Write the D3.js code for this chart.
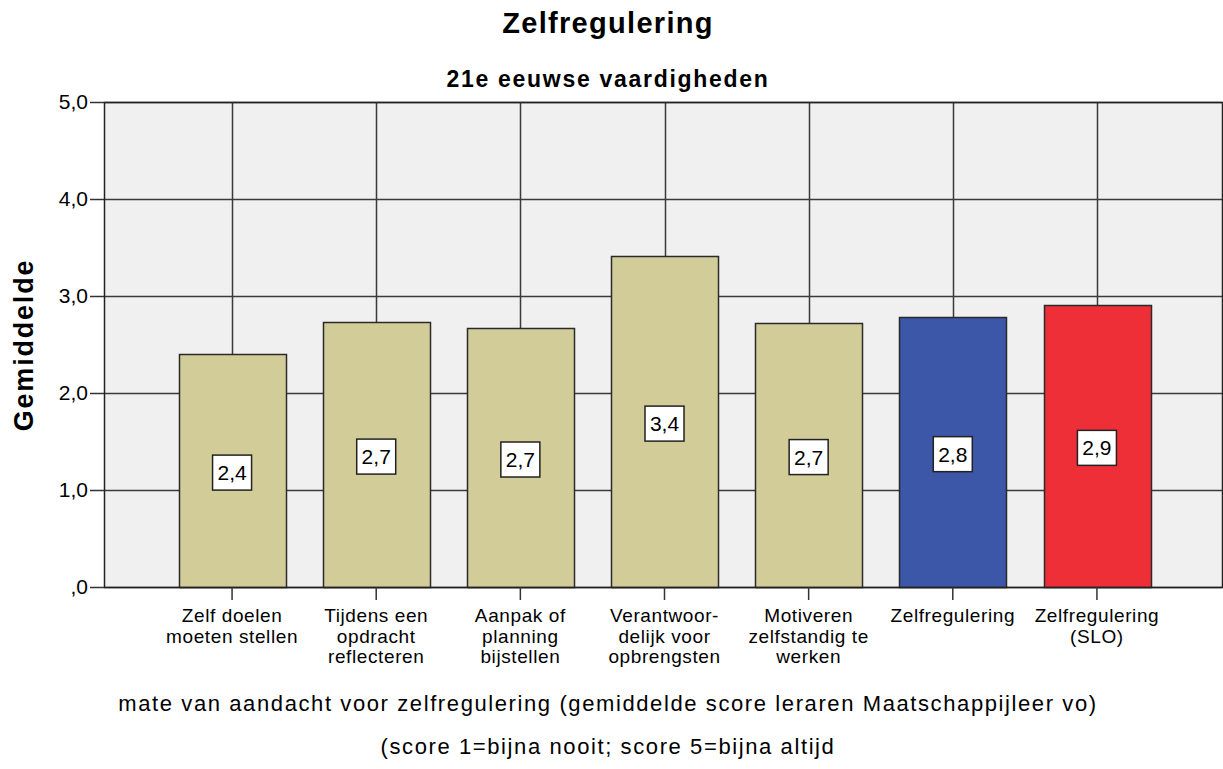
<!DOCTYPE html>
<html>
<head>
<meta charset="utf-8">
<script src="https://cdn.jsdelivr.net/npm/d3@7"></script>
<style>
  body { margin: 0; background: #fff; }
  text { font-family: Arial, "Liberation Sans", sans-serif; fill: #000; }
</style>
</head>
<body>
<svg id="chart"></svg>
<script>
// data
let categories = [
    ["Zelf doelen", "moeten stellen"],
    ["Tijdens een", "opdracht", "reflecteren"],
    ["Aanpak of", "planning", "bijstellen"],
    ["Verantwoor-", "delijk voor", "opbrengsten"],
    ["Motiveren", "zelfstandig te", "werken"],
    ["Zelfregulering"],
    ["Zelfregulering", "(SLO)"]
]
let values = [2.40, 2.73, 2.67, 3.41, 2.72, 2.78, 2.91]
let valueLabels = ["2,4", "2,7", "2,7", "3,4", "2,7", "2,8", "2,9"]
let barColors = ["#d2cd98", "#d2cd98", "#d2cd98", "#d2cd98", "#d2cd98", "#3c56a8", "#ee2f37"]
let yTicks = [0, 1, 2, 3, 4, 5]
let yTickLabels = [",0", "1,0", "2,0", "3,0", "4,0", "5,0"]

function drawChart() {
    let width = 1223;
    let height = 769;

    let plotLeft = 104;
    let plotRight = 1222;
    let plotTop = 102;
    let plotBottom = 587;
    let midX = 608;

    let svg = d3.select("#chart")
        .attr("width", width)
        .attr("height", height);

    let ids = d3.range(categories.length);

    let xScale = d3.scaleBand()
        .domain(ids)
        .range([160, 1169])
        .paddingInner(0.26)
        .paddingOuter(0.13);

    let yScale = d3.scaleLinear()
        .domain([0, 5])
        .range([plotBottom, plotTop]);

    // plot background
    svg.append("rect")
        .attr("x", plotLeft)
        .attr("y", plotTop)
        .attr("width", plotRight - plotLeft)
        .attr("height", plotBottom - plotTop)
        .attr("fill", "#f0f0f0");

    // horizontal grid
    svg.append("g")
        .selectAll("line")
        .data(yTicks)
        .enter()
        .append("line")
        .attr("x1", plotLeft)
        .attr("x2", plotRight)
        .attr("y1", d => Math.round(yScale(d)) + 0.5)
        .attr("y2", d => Math.round(yScale(d)) + 0.5)
        .attr("stroke", "#3a3a3a")
        .attr("stroke-width", 1.5);

    // vertical grid at category centers
    svg.append("g")
        .selectAll("line")
        .data(ids)
        .enter()
        .append("line")
        .attr("x1", d => Math.round(xScale(d) + xScale.bandwidth() / 2) + 0.5)
        .attr("x2", d => Math.round(xScale(d) + xScale.bandwidth() / 2) + 0.5)
        .attr("y1", plotTop)
        .attr("y2", plotBottom)
        .attr("stroke", "#3a3a3a")
        .attr("stroke-width", 1.5);

    // bars
    svg.append("g")
        .selectAll("rect")
        .data(ids)
        .enter()
        .append("rect")
        .attr("x", d => Math.round(xScale(d)) + 0.5)
        .attr("y", d => Math.round(yScale(values[d])) + 0.5)
        .attr("width", Math.round(xScale.bandwidth()))
        .attr("height", d => Math.round(plotBottom - yScale(values[d])))
        .attr("fill", d => barColors[d])
        .attr("stroke", "#2a2a2a")
        .attr("stroke-width", 1.5);

    // frame
    svg.append("rect")
        .attr("x", plotLeft + 0.5)
        .attr("y", plotTop + 0.5)
        .attr("width", plotRight - plotLeft)
        .attr("height", plotBottom - plotTop)
        .attr("fill", "none")
        .attr("stroke", "#222")
        .attr("stroke-width", 1.5);

    // value labels
    let labels = svg.append("g")
        .selectAll("g")
        .data(ids)
        .enter()
        .append("g")
        .attr("transform", d => "translate(" + (xScale(d) + xScale.bandwidth() / 2) + "," + (yScale(values[d] / 2) + 2) + ")");

    labels.append("rect")
        .attr("x", -19.5)
        .attr("y", -17.5)
        .attr("width", 39)
        .attr("height", 35)
        .attr("fill", "#fff")
        .attr("stroke", "#222")
        .attr("stroke-width", 1.5);

    labels.append("text")
        .attr("text-anchor", "middle")
        .attr("dy", "0.36em")
        .style("font-size", "21px")
        .text(d => valueLabels[d]);

    // y axis
    let yAxis = d3.axisLeft(yScale)
        .tickValues(yTicks)
        .tickFormat((d, i) => yTickLabels[i])
        .tickSize(14)
        .tickPadding(2);

    let yG = svg.append("g")
        .attr("transform", "translate(" + plotLeft + ",0)")
        .call(yAxis);
    yG.select(".domain").remove();
    yG.selectAll("line").attr("stroke", "#333").attr("stroke-width", 1.5);
    yG.selectAll("text")
        .style("font-size", "21px")
        .style("font-family", "Arial, 'Liberation Sans', sans-serif")
        .attr("fill", "#111");

    // x axis
    let xAxis = d3.axisBottom(xScale)
        .tickFormat("")
        .tickSize(13);

    let xG = svg.append("g")
        .attr("transform", "translate(0," + plotBottom + ")")
        .call(xAxis);
    xG.select(".domain").remove();
    xG.selectAll("line").attr("stroke", "#333").attr("stroke-width", 1.5);

    // x category labels, one text per line
    let catGroups = svg.append("g")
        .selectAll("g")
        .data(ids)
        .enter()
        .append("g")
        .attr("transform", d => "translate(" + (xScale(d) + xScale.bandwidth() / 2) + ",0)");

    catGroups.selectAll("text")
        .data(d => categories[d])
        .enter()
        .append("text")
        .attr("text-anchor", "middle")
        .attr("x", 0)
        .attr("y", (d, i) => 622 + i * 20.5)
        .style("font-size", "19px")
        .style("letter-spacing", "0.6px")
        .text(d => d);

    // titles
    svg.append("text")
        .attr("x", midX)
        .attr("y", 33)
        .attr("text-anchor", "middle")
        .style("font-size", "29px")
        .style("font-weight", "bold")
        .style("letter-spacing", "1.3px")
        .text("Zelfregulering");

    svg.append("text")
        .attr("x", midX)
        .attr("y", 87)
        .attr("text-anchor", "middle")
        .style("font-size", "23px")
        .style("font-weight", "bold")
        .style("letter-spacing", "1.7px")
        .text("21e eeuwse vaardigheden");

    svg.append("text")
        .attr("transform", "translate(33,345) rotate(-90)")
        .attr("text-anchor", "middle")
        .style("font-size", "27px")
        .style("font-weight", "bold")
        .style("letter-spacing", "1.8px")
        .text("Gemiddelde");

    svg.append("text")
        .attr("x", midX)
        .attr("y", 711)
        .attr("text-anchor", "middle")
        .style("font-size", "22px")
        .style("letter-spacing", "1.6px")
        .text("mate van aandacht voor zelfregulering (gemiddelde score leraren Maatschappijleer vo)");

    svg.append("text")
        .attr("x", midX)
        .attr("y", 754)
        .attr("text-anchor", "middle")
        .style("font-size", "22px")
        .style("letter-spacing", "1.6px")
        .text("(score 1=bijna nooit; score 5=bijna altijd");
}

drawChart();
</script>
</body>
</html>
